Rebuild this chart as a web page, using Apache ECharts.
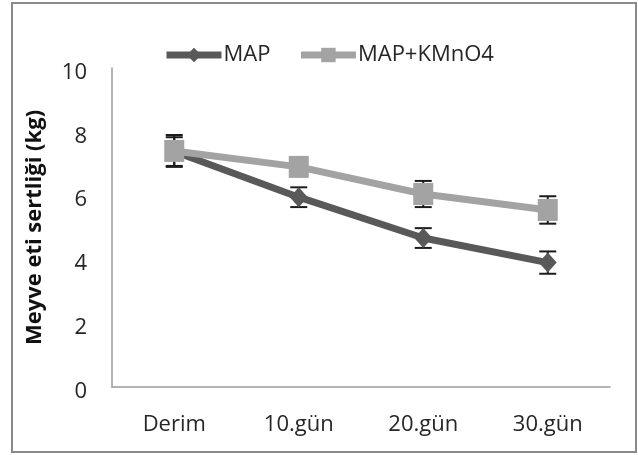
<!DOCTYPE html>
<html>
<head>
<meta charset="utf-8">
<script src="https://cdn.jsdelivr.net/npm/echarts@6/dist/echarts.min.js"></script>
<style>
html,body{margin:0;padding:0;background:#fff;}
#chart{width:638px;height:455px;}
</style>
</head>
<body>
<div id="chart"></div>
<script>
const categories = ['Derim', '10.gün', '20.gün', '30.gün'];
const mapValues = [7.38, 5.95, 4.67, 3.9];
const mapErrors = [0.45, 0.31, 0.31, 0.35];
const kmno4Values = [7.4, 6.9, 6.05, 5.55];
const kmno4Errors = [0.5, 0.2, 0.41, 0.43];
const yTicks = [0, 2, 4, 6, 8, 10];

const FONT = '"Open Sans", sans-serif';

function errData(vals, errs) {
  return vals.map((v, i) => [i, v, errs[i]]);
}
function renderErr(params, api) {
  const i = api.value(0), v = api.value(1), e = api.value(2);
  const top = api.coord([i, v + e]);
  const bot = api.coord([i, v - e]);
  const hw = 8.5;
  const st = { stroke: '#1c1c1c', lineWidth: 2 };
  return {
    type: 'group',
    children: [
      { type: 'line', shape: { x1: top[0], y1: top[1], x2: bot[0], y2: bot[1] }, style: st },
      { type: 'line', shape: { x1: top[0] - hw, y1: top[1], x2: top[0] + hw, y2: top[1] }, style: st },
      { type: 'line', shape: { x1: bot[0] - hw, y1: bot[1], x2: bot[0] + hw, y2: bot[1] }, style: st }
    ]
  };
}

const chart = echarts.init(document.getElementById('chart'), null, { renderer: 'canvas' });
chart.setOption({
  animation: false,
  backgroundColor: '#fff',
  graphic: [{
    type: 'rect',
    shape: { x: 12, y: 3, width: 624, height: 449 },
    style: { fill: 'none', stroke: '#8a8a8a', lineWidth: 2 },
    silent: true
  }],
  legend: {
    left: 158,
    top: 39,
    itemWidth: 55,
    itemHeight: 18,
    itemGap: 27,
    lineStyle: { width: 7 },
    textStyle: { fontFamily: FONT, fontSize: 22, color: '#262626', padding: [0, 0, 0, -3] },
    data: ['MAP', 'MAP+KMnO4']
  },
  grid: { left: 112, right: 28, top: 68, bottom: 68 },
  xAxis: {
    type: 'category',
    data: categories,
    boundaryGap: true,
    axisLine: { lineStyle: { color: '#9a9a9a', width: 1.5 } },
    axisTick: { show: false },
    axisLabel: { fontFamily: FONT, fontSize: 22, color: '#262626', margin: 27 }
  },
  yAxis: {
    type: 'value',
    min: yTicks[0],
    max: yTicks[yTicks.length - 1],
    interval: 2,
    name: 'Meyve eti sertliği (kg)',
    nameLocation: 'middle',
    nameGap: 66,
    nameTextStyle: { fontFamily: FONT, fontSize: 22, fontWeight: 'bold', color: '#111' },
    axisLine: { show: true, lineStyle: { color: '#9a9a9a', width: 1.5 } },
    axisTick: { show: false },
    splitLine: { show: false },
    axisLabel: { fontFamily: FONT, fontSize: 22, color: '#262626', margin: 25, verticalAlign: 'top', lineHeight: 9 }
  },
  series: [
    {
      type: 'custom',
      data: errData(mapValues, mapErrors),
      renderItem: renderErr,
      encode: { x: 0, y: 1 },
      z: 1,
      silent: true
    },
    {
      type: 'custom',
      data: errData(kmno4Values, kmno4Errors),
      renderItem: renderErr,
      encode: { x: 0, y: 1 },
      z: 1,
      silent: true
    },
    {
      name: 'MAP',
      type: 'line',
      data: mapValues,
      z: 2,
      symbol: 'diamond',
      symbolSize: [18, 20],
      lineStyle: { color: '#595959', width: 7 },
      itemStyle: { color: '#595959' }
    },
    {
      name: 'MAP+KMnO4',
      type: 'line',
      data: kmno4Values,
      z: 3,
      symbol: 'rect',
      symbolSize: [20, 22],
      lineStyle: { color: '#a3a3a3', width: 7 },
      itemStyle: { color: '#a3a3a3' }
    }
  ]
});
</script>
</body>
</html>
